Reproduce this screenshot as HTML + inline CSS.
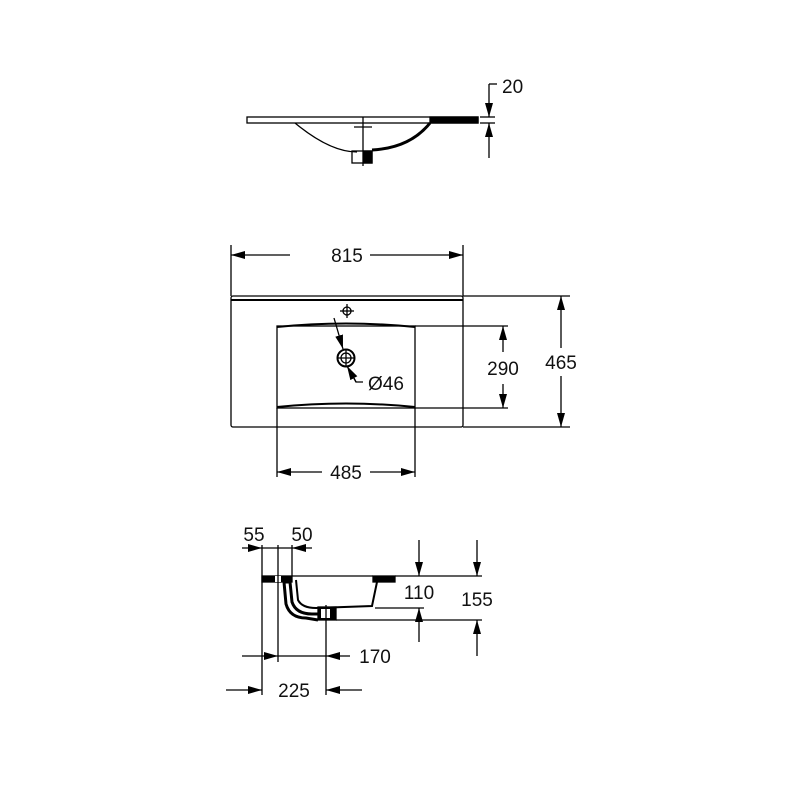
<!DOCTYPE html>
<html><head><style>
html,body{margin:0;padding:0;background:#fff}
svg{display:block}
text{font-family:"Liberation Sans",sans-serif;font-size:19px;fill:#111}
</style></head><body>
<svg width="800" height="800" viewBox="0 0 800 800" xmlns="http://www.w3.org/2000/svg">
<defs>
<marker id="a" viewBox="0 0 14 8" refX="14" refY="4" markerWidth="14" markerHeight="8" markerUnits="userSpaceOnUse" orient="auto">
<path d="M0,0 L14,4 L0,8 Z" fill="#000"/></marker>
</defs>
<g stroke="#000" fill="none" stroke-width="1.3">
<!-- TOP VIEW (side profile) -->
<rect x="247" y="117" width="231" height="6"/>
<rect x="430" y="117" width="48" height="6" fill="#000"/>
<path d="M295,123 Q330,152 357,152"/>
<path d="M372,150 Q410,148 430,123" stroke-width="3"/>
<rect x="352" y="151" width="20" height="12"/>
<rect x="364" y="151" width="8" height="12" fill="#000"/>
<line x1="363" y1="117" x2="363" y2="166"/>
<line x1="354" y1="127" x2="372" y2="127"/>
<line x1="480" y1="117" x2="495" y2="117"/>
<line x1="480" y1="123" x2="495" y2="123"/>
<line x1="489" y1="84" x2="497" y2="84"/>
<line x1="489" y1="84" x2="489" y2="117" marker-end="url(#a)"/>
<line x1="489" y1="158" x2="489" y2="123" marker-end="url(#a)"/>

<!-- FRONT VIEW -->
<line x1="231" y1="245" x2="231" y2="296"/>
<line x1="463" y1="245" x2="463" y2="296"/>
<line x1="290" y1="255" x2="231" y2="255" marker-end="url(#a)"/>
<line x1="370" y1="255" x2="463" y2="255" marker-end="url(#a)"/>
<rect x="231" y="296" width="232" height="131" rx="2"/>
<line x1="231" y1="300" x2="463" y2="300" stroke-width="2"/>
<rect x="277" y="326" width="138" height="82"/>
<path d="M277,327 Q346,320 415,327" stroke-width="2"/>
<path d="M277,407 Q346,400 415,407" stroke-width="2"/>
<circle cx="347" cy="311" r="4"/>
<line x1="340" y1="311" x2="354" y2="311"/><line x1="347" y1="304" x2="347" y2="318"/>
<circle cx="346" cy="358" r="8.5" stroke-width="2"/>
<circle cx="346" cy="358" r="5"/>
<line x1="337" y1="358" x2="355" y2="358"/><line x1="346" y1="349" x2="346" y2="367"/>
<line x1="334" y1="318" x2="343" y2="349" marker-end="url(#a)"/>
<path d="M363,382 L356,382 L350,370" />
<path d="M356,382 L347,366" marker-end="url(#a)"/>
<line x1="463" y1="296" x2="570" y2="296"/>
<line x1="463" y1="427" x2="570" y2="427"/>
<line x1="415" y1="326" x2="508" y2="326"/>
<line x1="415" y1="408" x2="508" y2="408"/>
<line x1="503" y1="352" x2="503" y2="326" marker-end="url(#a)"/>
<line x1="503" y1="384" x2="503" y2="408" marker-end="url(#a)"/>
<line x1="561" y1="348" x2="561" y2="296" marker-end="url(#a)"/>
<line x1="561" y1="376" x2="561" y2="427" marker-end="url(#a)"/>
<line x1="277" y1="408" x2="277" y2="477"/>
<line x1="415" y1="408" x2="415" y2="477"/>
<line x1="322" y1="472" x2="277" y2="472" marker-end="url(#a)"/>
<line x1="370" y1="472" x2="415" y2="472" marker-end="url(#a)"/>

<!-- SECTION VIEW -->
<rect x="262" y="576" width="30" height="6" fill="#000"/>
<rect x="275" y="576" width="6" height="6" fill="#fff" stroke="none"/>
<line x1="292" y1="576" x2="373" y2="576"/>
<rect x="373" y="576" width="22" height="6" fill="#000"/>
<path d="M290,582 L292,602 Q296,614 312,614 L320,614" stroke-width="3"/>
<path d="M290,582 L284,582 L286,604 Q290,618 306,618 L318,620" stroke-width="3"/>
<path d="M296,580 L298,600 Q302,608 316,608 L372,606 L377,582" stroke-width="2"/>
<rect x="318" y="607" width="18" height="13" fill="#000"/>
<rect x="321" y="609" width="9" height="9" fill="#fff" stroke="none"/>
<line x1="262" y1="545" x2="262" y2="695"/>
<line x1="278" y1="545" x2="278" y2="662"/>
<line x1="292" y1="545" x2="292" y2="576"/>
<line x1="326" y1="605" x2="326" y2="695"/>
<line x1="242" y1="548" x2="262" y2="548" marker-end="url(#a)"/>
<line x1="262" y1="548" x2="292" y2="548"/>
<line x1="312" y1="548" x2="292" y2="548" marker-end="url(#a)"/>
<line x1="242" y1="656" x2="278" y2="656" marker-end="url(#a)"/>
<line x1="278" y1="656" x2="326" y2="656"/>
<line x1="350" y1="656" x2="326" y2="656" marker-end="url(#a)"/>
<line x1="226" y1="690" x2="262" y2="690" marker-end="url(#a)"/>
<line x1="362" y1="690" x2="326" y2="690" marker-end="url(#a)"/>
<line x1="395" y1="576" x2="482" y2="576"/>
<line x1="375" y1="608" x2="424" y2="608"/>
<line x1="336" y1="620" x2="482" y2="620"/>
<line x1="419" y1="540" x2="419" y2="576" marker-end="url(#a)"/>
<line x1="419" y1="642" x2="419" y2="608" marker-end="url(#a)"/>
<line x1="477" y1="540" x2="477" y2="576" marker-end="url(#a)"/>
<line x1="477" y1="656" x2="477" y2="620" marker-end="url(#a)"/>
</g>
<text x="502" y="93">20</text>
<text x="347" y="262" text-anchor="middle">815</text>
<text x="368" y="390">Ø46</text>
<text x="503" y="375" text-anchor="middle">290</text>
<text x="561" y="369" text-anchor="middle">465</text>
<text x="346" y="479" text-anchor="middle">485</text>
<text x="254" y="541" text-anchor="middle">55</text>
<text x="302" y="541" text-anchor="middle">50</text>
<text x="419" y="599" text-anchor="middle">110</text>
<text x="477" y="606" text-anchor="middle">155</text>
<text x="375" y="663" text-anchor="middle">170</text>
<text x="294" y="697" text-anchor="middle">225</text>
</svg>
</body></html>
